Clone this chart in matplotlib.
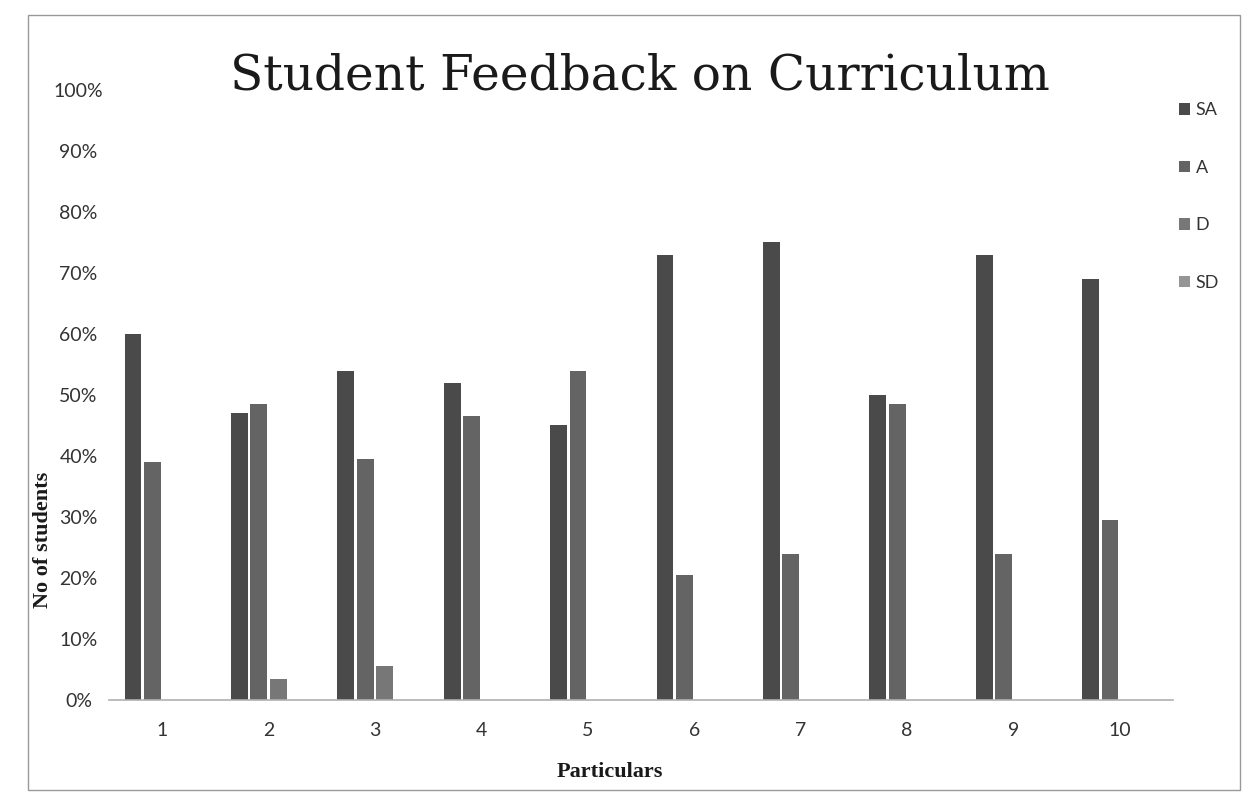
import matplotlib
matplotlib.use("Agg")
import matplotlib.pyplot as plt
import numpy as np
from matplotlib.patches import Rectangle

categories = ["1", "2", "3", "4", "5", "6", "7", "8", "9", "10"]
series_names = ["SA", "A", "D", "SD"]
sa = [60, 47, 54, 52, 45, 73, 75, 50, 73, 69]
a = [39, 48.5, 39.5, 46.5, 54, 20.5, 24, 48.5, 24, 29.5]
d = [0, 3.5, 5.5, 0, 0, 0, 0, 0, 0, 0]
sd = [0, 0, 0, 0, 0, 0, 0, 0, 0, 0]
yticks = [0, 10, 20, 30, 40, 50, 60, 70, 80, 90, 100]

colors = ["#4a4a4a", "#646464", "#777777", "#959595"]

fig = plt.figure(figsize=(12.55, 8.05), dpi=100)
ax = fig.add_axes([109/1255, (805-700)/805, (1173-109)/1255, (700-90)/805])

x = np.arange(1, len(categories) + 1)
step = 0.183
width = 0.158
for i, (vals, name) in enumerate(zip([sa, a, d, sd], series_names)):
    ax.bar(x + (i - 1.5) * step, vals, width=width, color=colors[i], label=name,
           edgecolor="none", zorder=2)

ax.set_xlim(0.5, 10.5)
ax.set_ylim(0, 100)
ax.set_yticks(yticks)
ax.set_yticklabels([f"{t}%" for t in yticks])
ax.set_xticks(x)
ax.set_xticklabels(categories)
for s in ["top", "right", "left"]:
    ax.spines[s].set_visible(False)
ax.spines["bottom"].set_color("#b0b0b0")
ax.spines["bottom"].set_linewidth(1.2)
ax.tick_params(axis="both", length=0, labelsize=14, colors="#333333")
ax.tick_params(axis="y", pad=22)
ax.tick_params(axis="x", pad=16)
for lab in ax.get_yticklabels():
    lab.set_horizontalalignment("center")
for lab in ax.get_xticklabels() + ax.get_yticklabels():
    lab.set_family(["Lato", "DejaVu Sans"])

fig.text(640/1255, 1 - 76/805, "Student Feedback on Curriculum", ha="center", va="center",
         family="DejaVu Serif", fontsize=35, color="#1a1a1a")
fig.text(610/1255, 1 - 772/805, "Particulars", ha="center", va="center",
         family="Liberation Serif", fontweight="bold", fontsize=16, color="#1a1a1a")
fig.text(43/1255, 1 - 540/805, "No of students", ha="center", va="center", rotation=90,
         family="Liberation Serif", fontweight="bold", fontsize=16, color="#1a1a1a")

leg = ax.legend(loc="upper left", bbox_to_anchor=(1163/1255, 1 - 86/805),
                bbox_transform=fig.transFigure, frameon=False, fontsize=13,
                handlelength=0.6, handleheight=0.6, handletextpad=0.3,
                labelspacing=2.3)
for t in leg.get_texts():
    t.set_family(["Lato", "DejaVu Sans"])
    t.set_color("#333333")

fig.patches.append(Rectangle((28/1255, 15/805), (1240-28)/1255, (790-15)/805,
                             transform=fig.transFigure, fill=False,
                             edgecolor="#999999", linewidth=1.0))

fig.savefig("out.png", dpi=100, facecolor="white")
